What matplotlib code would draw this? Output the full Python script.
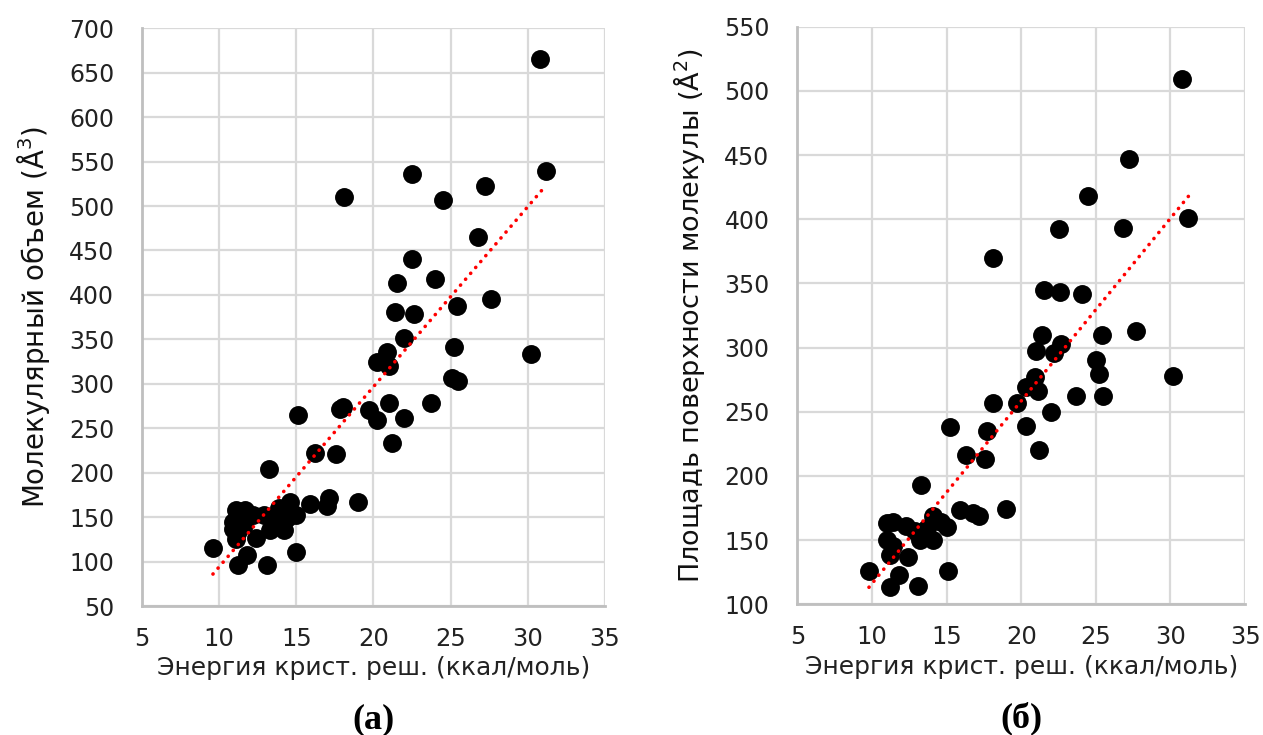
import numpy as np
import matplotlib.pyplot as plt

# (а) molecular volume vs lattice energy
energy_a = [30.8, 31.2, 22.5, 18.1, 27.2, 24.5, 26.8, 22.5, 21.5, 24.0,
            21.4, 22.6, 25.4, 27.6, 22.0, 25.2, 30.2, 20.9, 20.2, 21.0,
            25.1, 25.5, 17.8, 18.0, 15.1, 21.0, 19.7, 20.2, 22.0, 23.7,
            21.2, 16.2, 17.6, 13.2, 15.9, 17.1, 17.0, 19.0, 14.6, 15.0,
            11.1, 11.7, 10.9, 11.2, 11.1, 11.4, 12.4, 11.8, 11.2, 13.1,
            9.6, 15.0, 13.3, 14.2, 13.7, 12.9, 12.2, 10.9, 11.6, 14.4,
            13.9]
volume_a = [665, 539, 536, 510, 523, 507, 465, 440, 413, 418,
            381, 379, 388, 395, 352, 341, 334, 336, 325, 320,
            307, 303, 272, 274, 265, 278, 270, 259, 261, 278,
            233, 222, 221, 204, 165, 171, 163, 167, 167, 152,
            158, 158, 145, 134, 125, 152, 126, 107, 96, 96,
            115, 111, 136, 136, 149, 152, 152, 137, 141, 149,
            160]

# (б) molecular surface area vs lattice energy
energy_b = [30.8, 27.2, 24.5, 31.2, 22.5, 26.8, 18.1, 21.5, 22.6, 24.1,
            21.4, 25.4, 27.7, 22.7, 22.2, 21.0, 25.0, 25.2, 30.2, 20.9,
            20.3, 21.1, 19.7, 18.1, 23.7, 25.5, 22.0, 15.2, 17.7, 20.3,
            21.2, 16.3, 17.6, 13.3, 15.9, 16.8, 17.2, 19.0, 15.1, 9.8,
            11.2, 13.1, 11.8, 12.4, 11.4, 11.0, 12.3, 11.0, 11.4, 11.2,
            13.2, 14.1, 13.7, 14.6, 15.0, 14.1, 12.9]
area_b = [509, 447, 418, 401, 392, 393, 370, 345, 343, 342,
          310, 310, 313, 303, 296, 297, 290, 279, 278, 277,
          269, 266, 257, 257, 262, 262, 250, 238, 235, 239,
          220, 216, 213, 193, 173, 171, 169, 174, 126, 126,
          113, 114, 123, 137, 164, 163, 161, 150, 145, 138,
          150, 150, 159, 164, 160, 169, 157]

x_ticks = [5, 10, 15, 20, 25, 30, 35]
y_ticks_a = list(range(50, 701, 50))
y_ticks_b = list(range(100, 551, 50))

xlabel = "Энергия крист. реш. (ккал/моль)"
ylabel_a = "Молекулярный объем (Å$^3$)"
ylabel_b = "Площадь поверхности молекулы (Å$^2$)"

plt.rcParams["font.family"] = ["DejaVu Sans"]

fig = plt.figure(figsize=(12.63, 7.35), dpi=100)
ax_a = fig.add_axes([0.1124, 0.1755, 0.3666, 0.7860])
ax_b = fig.add_axes([0.6313, 0.1780, 0.3545, 0.7857])


def draw_panel(ax, x, y, yticks, ylabel, ylabel_size, tag):
    ax.scatter(x, y, s=185, color="black", zorder=3, linewidths=0)

    # linear trend (Excel-style dotted red line)
    k, b = np.polyfit(x, y, 1)
    xs = np.array([min(x), max(x)])
    ax.plot(xs, k * xs + b, color="#ff0000", lw=2.6,
            linestyle=(0, (0.05, 2.1)), dash_capstyle="round", zorder=4)

    ax.set_xlim(x_ticks[0], x_ticks[-1])
    ax.set_ylim(yticks[0], yticks[-1])
    ax.set_xticks(x_ticks)
    ax.set_yticks(yticks)
    ax.grid(True, color="#d9d9d9", lw=1.6, zorder=0)
    ax.set_axisbelow(True)
    for side in ("top", "right"):
        ax.spines[side].set_visible(False)
    for side in ("left", "bottom"):
        ax.spines[side].set_color("#bfbfbf")
        ax.spines[side].set_linewidth(2.0)
    ax.tick_params(length=0, colors="#222222")
    ax.tick_params(axis="x", pad=15, labelsize=17.5)
    ax.tick_params(axis="y", pad=20, labelsize=17)
    ax.set_xlabel(xlabel, fontsize=18, color="#222222", labelpad=4)
    ax.set_ylabel(ylabel, fontsize=ylabel_size, color="#111111", labelpad=12)
    ax.text(0.5, -0.168, tag, transform=ax.transAxes, ha="center",
            va="top", fontsize=26, fontweight="bold",
            family="Liberation Serif")


draw_panel(ax_a, energy_a, volume_a, y_ticks_a, ylabel_a, 20, "(а)")
draw_panel(ax_b, energy_b, area_b, y_ticks_b, ylabel_b, 19.5, "(б)")

fig.savefig("out.png", dpi=100)
